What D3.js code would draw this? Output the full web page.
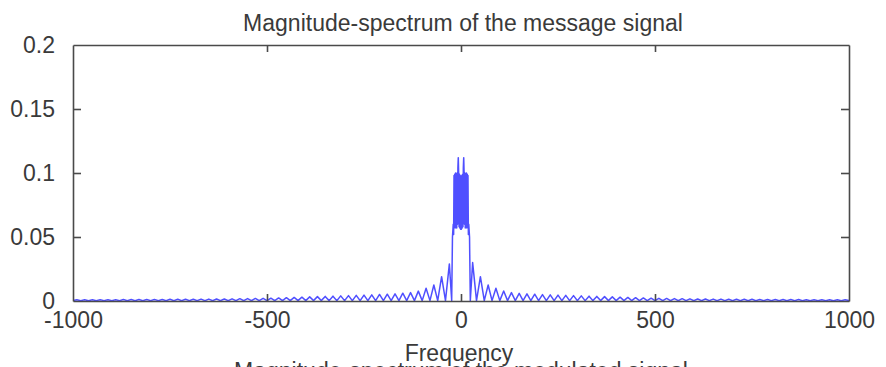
<!DOCTYPE html>
<html>
<head>
<meta charset="utf-8">
<script src="https://cdn.jsdelivr.net/npm/d3@7"></script>
<style>
  body { margin: 0; background: #fff; }
  text { font-family: "Liberation Sans", Arial, sans-serif; fill: #3a3a3a; }
</style>
</head>
<body>
<div id="chart"></div>
<script>
// axis setup
const xDomain = [-1000, 1000];
const yDomain = [0, 0.2];
const xTicks = [-1000, -500, 0, 500, 1000];
const xTickLabels = ['-1000', '-500', '0', '500', '1000'];
const yTicks = [0, 0.05, 0.1, 0.15, 0.2];
const yTickLabels = ['0', '0.05', '0.1', '0.15', '0.2'];

// main lobe, dense ripple around 0 Hz
const centerFreq = [-24, -22, -20, -19, -18, -17, -16, -15, -14, -13, -12, -11, -10, -9, -8, -7, -6, -5, -4, -3, -2, -1, 0,
  1, 2, 3, 4, 5, 6, 7, 8, 9, 10, 11, 12, 13, 14, 15, 16, 17, 18, 19, 20, 22, 24];
const centerMag = [0.0004, 0.050, 0.060, 0.052, 0.098, 0.058, 0.099, 0.057, 0.100, 0.058, 0.099, 0.057, 0.100, 0.060, 0.104, 0.112, 0.100, 0.058, 0.099, 0.057, 0.098, 0.056, 0.097,
  0.056, 0.098, 0.057, 0.099, 0.058, 0.104, 0.112, 0.100, 0.060, 0.100, 0.057, 0.099, 0.058, 0.100, 0.057, 0.099, 0.058, 0.098, 0.052, 0.060, 0.050, 0.0004];

// side lobes (peak frequencies, positive side)
const lobeFreq = [30, 50, 70, 90, 110, 130, 150, 170, 190, 210, 230, 250, 270, 290, 310, 330, 350, 370, 390, 410,
  430, 450, 470, 490, 510, 530, 550, 570, 590, 610, 630, 650, 670, 690, 710, 730, 750, 770, 790, 810,
  830, 850, 870, 890, 910, 930, 950, 970, 990];
const rightPeaks = [0.030, 0.019, 0.0125, 0.010, 0.0078, 0.0066, 0.0060, 0.0056, 0.0053, 0.0050, 0.0048, 0.0046, 0.0044, 0.0042, 0.0040, 0.0038, 0.0036, 0.0034, 0.0032, 0.0030,
  0.0028, 0.0026, 0.0024, 0.0022, 0.0021, 0.0020, 0.0019, 0.0018, 0.0017, 0.0016, 0.0016, 0.0015, 0.0015, 0.0014, 0.0014, 0.0013, 0.0013, 0.0012, 0.0012, 0.0012,
  0.0011, 0.0011, 0.0011, 0.0010, 0.0010, 0.0010, 0.0009, 0.0009, 0.0009];
const leftPeaks = [0.029, 0.019, 0.0125, 0.0100, 0.0077, 0.0066, 0.0061, 0.0056, 0.0053, 0.0051, 0.0048, 0.0046, 0.0044, 0.0042, 0.0040, 0.0038, 0.0036, 0.0034, 0.0032, 0.0030,
  0.0028, 0.0026, 0.0024, 0.0022, 0.0021, 0.0020, 0.0019, 0.0018, 0.0017, 0.0016, 0.0016, 0.0015, 0.0015, 0.0014, 0.0014, 0.0013, 0.0013, 0.0012, 0.0012, 0.0012,
  0.0011, 0.0011, 0.0011, 0.0010, 0.0010, 0.0010, 0.0009, 0.0009, 0.0009];

// nulls between side lobes (positive side)
const nullFreq = [40, 60, 80, 100, 120, 140, 160, 180, 200, 220, 240, 260, 280, 300, 320, 340, 360, 380, 400, 420,
  440, 460, 480, 500, 520, 540, 560, 580, 600, 620, 640, 660, 680, 700, 720, 740, 760, 780, 800, 820,
  840, 860, 880, 900, 920, 940, 960, 980, 1000];
const nullMag = 0.0003;

const width = 886;
const height = 367;
const margin = { top: 45, right: 37, bottom: 66, left: 73 };
const plotW = width - margin.left - margin.right;
const plotH = height - margin.top - margin.bottom;

// build the spectrum points
let points = [];
centerFreq.forEach((f, i) => points.push({ f: f, m: centerMag[i] }));
lobeFreq.forEach((f, i) => {
  points.push({ f: f, m: rightPeaks[i] });
  points.push({ f: -f, m: leftPeaks[i] });
});
nullFreq.forEach((f) => {
  points.push({ f: f, m: nullMag });
  points.push({ f: -f, m: nullMag });
});
points.sort((a, b) => a.f - b.f);

const svg = d3
  .select('#chart')
  .append('svg')
  .attr('width', width)
  .attr('height', height);

svg.append('rect').attr('width', width).attr('height', height).attr('fill', '#fff');

const x = d3.scaleLinear().domain(xDomain).range([margin.left, margin.left + plotW]);
const y = d3.scaleLinear().domain(yDomain).range([margin.top + plotH, margin.top]);

svg.append('clipPath')
  .attr('id', 'plot-clip')
  .append('rect')
  .attr('x', margin.left)
  .attr('y', margin.top - 2)
  .attr('width', plotW)
  .attr('height', plotH + 2);

const line = d3.line()
  .x((d) => x(d.f))
  .y((d) => y(d.m));

svg.append('path')
  .datum(points)
  .attr('clip-path', 'url(#plot-clip)')
  .attr('fill', 'none')
  .attr('stroke', '#3030ff')
  .attr('stroke-opacity', 0.85)
  .attr('stroke-width', 1.5)
  .attr('stroke-linejoin', 'round')
  .attr('d', line);

// axes: MATLAB style box with inward ticks
const axisColor = '#4a4a4a';

const bottomAxis = svg.append('g')
  .attr('transform', `translate(0,${margin.top + plotH})`)
  .call(d3.axisBottom(x).tickValues(xTicks).tickSizeInner(-7).tickSizeOuter(0).tickPadding(15)
    .tickFormat((d, i) => xTickLabels[i]));

const topAxis = svg.append('g')
  .attr('transform', `translate(0,${margin.top})`)
  .call(d3.axisTop(x).tickValues(xTicks).tickSizeInner(-7).tickSizeOuter(0).tickFormat(''));

const leftAxis = svg.append('g')
  .attr('transform', `translate(${margin.left},0)`)
  .call(d3.axisLeft(y).tickValues(yTicks).tickSizeInner(-8).tickSizeOuter(0).tickPadding(18)
    .tickFormat((d, i) => yTickLabels[i]));

const rightAxis = svg.append('g')
  .attr('transform', `translate(${margin.left + plotW},0)`)
  .call(d3.axisRight(y).tickValues(yTicks).tickSizeInner(-8).tickSizeOuter(0).tickFormat(''));

[bottomAxis, topAxis, leftAxis, rightAxis].forEach((g) => {
  g.select('.domain').attr('stroke', axisColor).attr('stroke-width', 1.6);
  g.selectAll('.tick line').attr('stroke', axisColor).attr('stroke-width', 1.6);
  g.selectAll('.tick text')
    .attr('font-size', '23px')
    .attr('font-family', '"Liberation Sans", Arial, sans-serif')
    .attr('fill', '#3a3a3a');
});

// ticks at the box corners are drawn by the domain lines already
bottomAxis.selectAll('.tick line').filter((d) => d === -1000 || d === 1000).remove();
topAxis.selectAll('.tick line').filter((d) => d === -1000 || d === 1000).remove();
leftAxis.selectAll('.tick line').filter((d) => d === 0 || d === 0.2).remove();
rightAxis.selectAll('.tick line').filter((d) => d === 0 || d === 0.2).remove();

bottomAxis.selectAll('.tick text').attr('dy', '0.5em');

svg.append('text')
  .attr('x', 463)
  .attr('y', 31)
  .attr('text-anchor', 'middle')
  .attr('font-size', '23px')
  .text('Magnitude-spectrum of the message signal');

svg.append('text')
  .attr('x', 459)
  .attr('y', 361)
  .attr('text-anchor', 'middle')
  .attr('font-size', '23px')
  .text('Frequency');

// title of the next subplot, cut off by the bottom edge
svg.append('text')
  .attr('x', 461)
  .attr('y', 379)
  .attr('text-anchor', 'middle')
  .attr('font-size', '23px')
  .text('Magnitude-spectrum of the modulated signal');
</script>
</body>
</html>
